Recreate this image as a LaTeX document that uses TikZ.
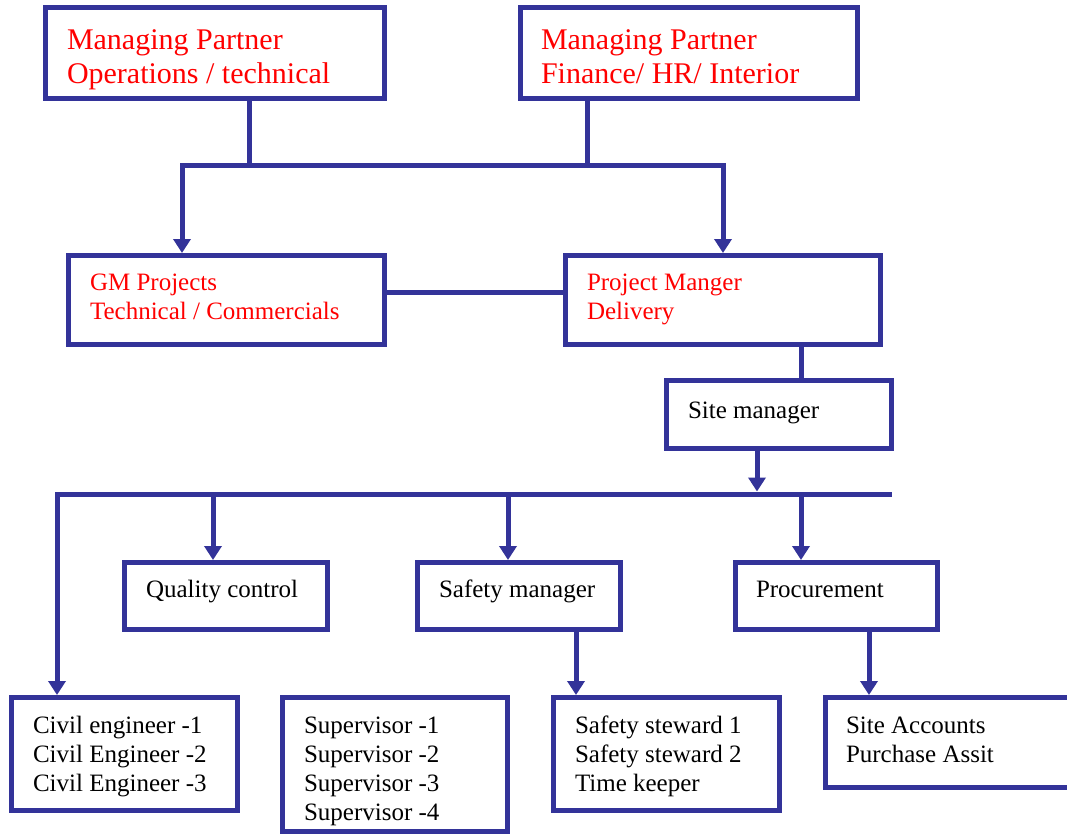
\documentclass[tikz,border=0pt]{standalone}
\usepackage{fontspec}
\setmainfont{Liberation Serif}
\usetikzlibrary{arrows.meta}
\definecolor{blu}{RGB}{51,51,153}
\definecolor{rd}{RGB}{255,0,0}
\begin{document}
\begin{tikzpicture}[x=1pt,y=-1pt,
  box/.style={draw=blu, line width=5pt, inner sep=0pt, align=left, anchor=north west,
    execute at begin node={\spaceskip=0.25em\relax}},
  big/.style={font=\fontsize{30}{34}\selectfont},
  small/.style={font=\fontsize{25}{29}\selectfont},
  conn/.style={draw=blu, line width=5pt, line join=miter},
  tip/.style={-{Triangle[width=17pt,length=14pt]}},
  tiptwo/.style={{Triangle[width=17pt,length=14pt]}-{Triangle[width=17pt,length=14pt]}},
  tipback/.style={{Triangle[width=17pt,length=14pt]}-}]
\useasboundingbox (0,0) rectangle (1067,835);
\fill[white] (0,0) rectangle (1067,835);

% boxes
\node[box, big, text=rd, minimum width=339pt, minimum height=91pt, text width=296pt] (mp1) at (43,5)
  {\rule{0pt}{35pt}Managing Partner\\Operations / technical\rule[-9pt]{0pt}{9pt}};
\node[box, big, text=rd, minimum width=337pt, minimum height=91pt, text width=296pt] (mp2) at (518,5)
  {\rule{0pt}{35pt}Managing Partner\\Finance/ HR/ Interior\rule[-9pt]{0pt}{9pt}};
\node[box, small, text=rd, minimum width=316pt, minimum height=89pt, text width=273pt] (gm) at (66,253)
  {\rule{0pt}{19pt}GM Projects\\Technical / Commercials\rule[-10pt]{0pt}{10pt}};
\node[box, small, text=rd, minimum width=315pt, minimum height=89pt, text width=272pt] (pm) at (563,253)
  {\rule{0pt}{19pt}Project Manger\\Delivery\rule[-10pt]{0pt}{10pt}};
\node[box, small, minimum width=225pt, minimum height=68pt, text width=182pt] (site) at (664,378)
  {\rule{0pt}{19pt}Site manager\rule[-12pt]{0pt}{12pt}};
\node[box, small, minimum width=203pt, minimum height=67pt, text width=160pt] (qc) at (122,560)
  {\rule{0pt}{19pt}Quality control\rule[-17pt]{0pt}{17pt}};
\node[box, small, minimum width=203pt, minimum height=67pt, text width=160pt] (sm) at (415,560)
  {\rule{0pt}{19pt}Safety manager\rule[-17pt]{0pt}{17pt}};
\node[box, small, minimum width=202pt, minimum height=67pt, text width=161pt] (proc) at (733,560)
  {\rule{0pt}{19pt}Procurement\rule[-17pt]{0pt}{17pt}};
\node[box, small, minimum width=226pt, minimum height=113pt, text width=183pt] (civ) at (9,695)
  {\rule{0pt}{23pt}Civil engineer -1\\Civil Engineer -2\\Civil Engineer -3\rule[-7pt]{0pt}{7pt}};
\node[box, small, minimum width=225pt, minimum height=134pt, text width=182pt] (sup) at (280,695)
  {\rule{0pt}{31pt}Supervisor -1\\Supervisor -2\\Supervisor -3\\Supervisor -4\rule[-7pt]{0pt}{7pt}};
\node[box, small, minimum width=226pt, minimum height=113pt, text width=183pt] (ss) at (551,695)
  {\rule{0pt}{23pt}Safety steward 1\\Safety steward 2\\Time keeper\rule[-7pt]{0pt}{7pt}};
\node[box, small, minimum width=262pt, minimum height=90pt, text width=221pt] (sa) at (823,695)
  {\rule{0pt}{19pt}Site Accounts\\Purchase Assit\rule[-9pt]{0pt}{9pt}};

% junction coordinates
\coordinate (v1) at (249,165);
\coordinate (v2) at (587,165);
\coordinate (j1) at (182,165);
\coordinate (j2) at (723,165);
\coordinate (h1) at (0,292);
\coordinate (v3) at (801,0);
\coordinate (v4) at (757,491.5);
\coordinate (b2L) at (57,494);
\coordinate (b2R) at (892,494);
\coordinate (d1) at (213,494);
\coordinate (d2) at (508,494);
\coordinate (d3) at (801,494);
\coordinate (v5) at (576,0);
\coordinate (v6) at (869,0);

% connectors
\draw[conn] (v1 |- mp1.south) -- (v1);
\draw[conn] (v2 |- mp2.south) -- (v2);
\draw[conn, tiptwo] (j1 |- gm.north) -- (j1) -- (j2) -- (j2 |- pm.north);
\draw[conn] (gm.east |- h1) -- (pm.west |- h1);
\draw[conn] (pm.south -| v3) -- (site.north -| v3);
\draw[conn, tip] (site.south -| v4) -- (v4);
\draw[conn, tipback] (civ.north -| b2L) -- (b2L) -- (b2R);
\draw[conn, tip] (d1) -- (d1 |- qc.north);
\draw[conn, tip] (d2) -- (d2 |- sm.north);
\draw[conn, tip] (d3) -- (d3 |- proc.north);
\draw[conn, tip] (sm.south -| v5) -- (ss.north -| v5);
\draw[conn, tip] (proc.south -| v6) -- (sa.north -| v6);
\end{tikzpicture}
\end{document}
